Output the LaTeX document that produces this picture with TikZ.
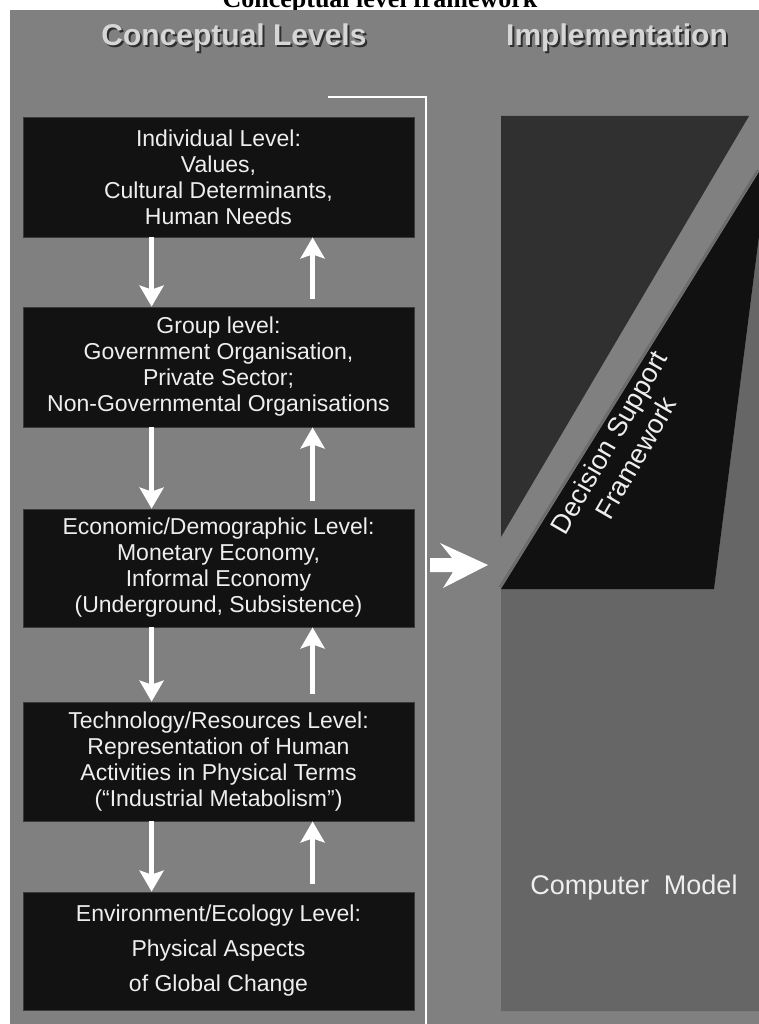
\documentclass[tikz,border=0pt]{standalone}
\usepackage{fontspec}
\setmainfont{Liberation Sans}
\newfontfamily\titlefont{Liberation Serif}
\usetikzlibrary{arrows.meta}
\definecolor{bg}{HTML}{808080}
\definecolor{boxblack}{HTML}{121212}
\definecolor{boxedge}{HTML}{3A3A3A}
\definecolor{boxtext}{HTML}{EEEEEE}
\definecolor{darkpanel}{HTML}{303030}
\definecolor{blackpanel}{HTML}{111111}
\definecolor{modelpanel}{HTML}{666666}
\definecolor{edgeband}{HTML}{6C6C6C}
\definecolor{hdrtext}{HTML}{D6D6D6}
\definecolor{hdrshadow}{HTML}{2E2E2E}
\tikzset{
  lvl/.style={fill=boxblack, draw=boxedge, line width=0.8pt, minimum width=391pt,
    inner sep=0pt, text=boxtext, align=center, font=\fontsize{23}{26}\selectfont},
  flow/.style={draw=white, line width=4.5pt, -{Stealth[length=21pt,width=24pt,inset=4pt]}},
  hdr/.style={text=hdrtext, font=\fontsize{30}{32}\selectfont\bfseries, inner sep=0pt},
  hdrsh/.style={text=hdrshadow, font=\fontsize{30}{32}\selectfont\bfseries, inner sep=0pt},
  imptext/.style={text=boxtext, align=center, inner sep=0pt, font=\fontsize{27}{31}\selectfont},
}
\begin{document}
\begin{tikzpicture}[x=1pt, y=-1pt]
\useasboundingbox (0,0) rectangle (759,1024);
\begin{scope}
\clip (0,0) rectangle (759,1024);
% title (cut off at top)
\node[anchor=base, inner sep=0pt, font=\titlefont\bfseries\fontsize{26}{28}\selectfont] (title) at (380,8) {Conceptual level framework};
% background
\fill[bg] (10,10) rectangle (759,1024);
% headers with shadow
\node[hdrsh] (hcs) at (236,40) {Conceptual Levels};
\node[hdr] (hc) at (234,38) {Conceptual Levels};
\node[hdrsh] (his) at (619,40) {Implementation};
\node[hdr] (hi) at (617,38) {Implementation};
% implementation panels
\fill[darkpanel] (501,116) -- (749,116) -- (501,537) -- cycle;
\fill[modelpanel] (501,589) -- (714,589) -- (759,236) -- (759,1011) -- (501,1011) -- cycle;
\fill[blackpanel] (501,589) -- (714,589) -- (759,236) -- (759,172) -- cycle;
\draw[edgeband, line width=2.5pt] (500,587) -- (758,170);
\node[imptext, rotate=60] (dsf) at (622,450) {Decision Support\\Framework};
\node[imptext] (cm) at (634,888) {Computer\ \ Model};
% level boxes
\node[lvl, minimum height=120pt] (b1) at (218.5,177) {Individual Level:\\Values,\\Cultural Determinants,\\Human Needs};
\node[lvl, minimum height=120pt] (b2) at (218.5,367) {Group level:\\Government Organisation,\\Private Sector;\\Non-Governmental Organisations};
\node[lvl, minimum height=118pt] (b3) at (218.5,568) {Economic/Demographic Level:\\Monetary Economy,\\Informal Economy\\(Underground, Subsistence)};
\node[lvl, minimum height=119pt] (b4) at (218.5,761.5) {Technology/Resources Level:\\Representation of Human\\Activities in Physical Terms\\(``Industrial Metabolism'')};
\node[lvl, minimum height=118pt, font=\fontsize{23}{35}\selectfont] (b5) at (218.5,951) {Environment/Ecology Level:\\Physical Aspects\\of Global Change};
% vertical arrows
\foreach \a/\b in {b1/b2, b2/b3, b3/b4, b4/b5}{
  \draw[flow] ([xshift=129pt]\a.south west) -- ([xshift=129pt]\b.north west);
  \draw[flow] ([xshift=290pt,yshift=8pt]\b.north west) -- ([xshift=290pt]\a.south west);
}
% bracket line
\coordinate (brA) at (328,97);
\coordinate (brB) at (426,97);
\coordinate (brC) at (426,1030);
\draw[white, line width=2.5pt] (brA) -- (brB) -- (brC);
% big arrow towards implementation
\fill[white] (430,558) -- (452,558) -- (440,543) -- (488,565) -- (443,588) -- (453,572) -- (430,572) -- cycle;
\end{scope}
\end{tikzpicture}
\end{document}
